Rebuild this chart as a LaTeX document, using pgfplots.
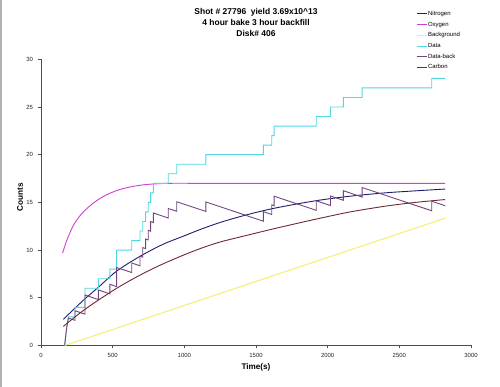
\documentclass[border=0pt]{standalone}
\usepackage{fontspec}
\setmainfont{Liberation Sans}
\usepackage{pgfplots}
\pgfplotsset{compat=1.18}
\definecolor{cN}{HTML}{1E1E6E}
\definecolor{cO}{HTML}{D040D0}
\definecolor{cB}{HTML}{F2F060}
\definecolor{cD}{HTML}{50D8E2}
\definecolor{cDB}{HTML}{73457F}
\definecolor{cC}{HTML}{6E2A30}
\begin{document}
\begin{tikzpicture}
\path[use as bounding box, fill=white] (0,0) rectangle (500bp,387bp);
\draw[black!30, line width=1.2bp] (1bp,0) -- (1bp,387bp);
\begin{axis}[
  at={(41bp,41.5bp)}, anchor=south west,
  scale only axis, width=430bp, height=286.2bp,
  xmin=0, xmax=3000, ymin=0, ymax=30,
  xtick={0,500,...,3000}, ytick={0,5,...,30},
  axis x line=bottom, axis y line=left,
  axis line style={-, black!70, line width=0.7bp},
  tick style={black!70, line width=0.6bp},
  tick align=outside, major tick length=3bp,
  /pgf/number format/assume math mode=true,
  /pgf/number format/1000 sep={},
  ticklabel style={font=\fontsize{6}{7}\selectfont, text=black!85},
  xticklabel style={yshift=-1.5bp},
  yticklabel style={xshift=-1.5bp},
  xlabel={Time(s)}, ylabel={Counts},
  label style={font=\bfseries\fontsize{8.2}{9}\selectfont},
  xlabel style={at={(axis description cs:0.5,-0.0776)}, anchor=center},
  ylabel style={at={(axis description cs:-0.0488,0.519)}, anchor=center},
  title={Shot \# 27796\ \ yield 3.69x10\textasciicircum 13\\4 hour bake 3 hour backfill\\Disk\# 406},
  title style={at={(axis description cs:0.5,1.171)}, anchor=north, align=center, font=\bfseries\fontsize{8.5}{11.5}\selectfont},
  legend style={at={(axis description cs:0.865,1.18)}, anchor=north west, draw=none, fill=none,
    font=\fontsize{6}{7}\selectfont, row sep=2.9bp,
    nodes={inner sep=1bp, text height=4.5bp, text depth=1.3bp}},
  legend cell align=left,
  legend image code/.code={\draw[#1, line width=0.9bp] (0bp,0bp) -- (10bp,0bp);},
  every axis plot/.append style={line width=0.9bp},
]
% Nitrogen
\addplot[color=cN, smooth] coordinates {
(156,2.75) (250,4.1) (307,4.9) (400,6.1) (528,7.8) (691,9.35) (850,10.6) (1000,11.5)
(1109,12.15) (1250,12.9) (1423,13.65) (1600,14.3) (1772,14.8) (1950,15.25) (2156,15.65)
(2400,16.0) (2600,16.2) (2820,16.4)};
\addlegendentry{Nitrogen}
% Oxygen
\addplot[color=cO, smooth] coordinates {
(151,9.7) (170,10.6) (190,11.4) (226,12.6) (280,13.75) (342,14.65) (400,15.3) (458,15.8)
(520,16.2) (574,16.45) (650,16.7) (720,16.85) (784,16.93) (900,17.0) (1200,17.0) (2820,17.0)};
\addlegendentry{Oxygen}
% Background
\addplot[color=cB] coordinates {(165,0) (2820,13.35)};
\addlegendentry{Background}
% Data
\addplot[color=cD] coordinates {
(165,0) (172,1) (180,2) (191,3) (237,3) (237,4) (307,4) (307,6) (400,6) (400,7) (481,7) (481,8)
(528,8) (528,10) (633,10) (633,11) (691,11) (691,12) (710,12) (710,13) (730,13) (730,14)
(748,14) (748,15) (765,15) (765,16) (784,16) (784,17) (888,17) (888,18) (947,18) (947,19)
(1150,19) (1150,20) (1551,20) (1551,21) (1610,21) (1610,22) (1626,22) (1626,23) (1920,23)
(1920,24) (2020,24) (2020,25) (2110,25) (2110,26) (2240,26) (2240,27) (2726,27) (2726,28) (2820,28)};
\addlegendentry{Data}
% Data-back
\addplot[color=cDB] coordinates {
(165,0) (172,0.97) (180,1.93) (191,2.87) (237,2.64) (237,3.64) (307,3.29) (307,5.29)
(400,4.82) (400,5.82) (481,5.41) (481,6.41) (528,6.17) (528,8.17) (633,7.65) (633,8.65)
(691,8.35) (691,9.35) (710,9.26) (710,10.26) (730,10.16) (730,11.16) (748,11.07) (748,12.07)
(765,11.98) (765,12.98) (784,12.89) (784,13.89) (888,13.36) (888,14.36) (947,14.07) (947,15.07)
(1150,14.05) (1150,15.05) (1551,13.03) (1551,14.03) (1610,13.73) (1610,14.73) (1626,14.65)
(1626,15.65) (1920,14.17) (1920,15.17) (2020,14.67) (2020,15.67) (2110,15.22) (2110,16.22)
(2240,15.56) (2240,16.56) (2726,14.12) (2726,15.12) (2820,14.65)};
\addlegendentry{Data-back}
% Carbon
\addplot[color=cC, smooth] coordinates {
(156,2.0) (250,3.15) (350,4.25) (450,5.25) (528,6.0) (650,7.05) (800,8.2) (950,9.2)
(1109,10.15) (1250,10.85) (1423,11.5) (1600,12.15) (1772,12.75) (1950,13.35) (2156,14.0)
(2400,14.6) (2600,14.98) (2820,15.3)};
\addlegendentry{Carbon}
\end{axis}
\end{tikzpicture}
\end{document}
